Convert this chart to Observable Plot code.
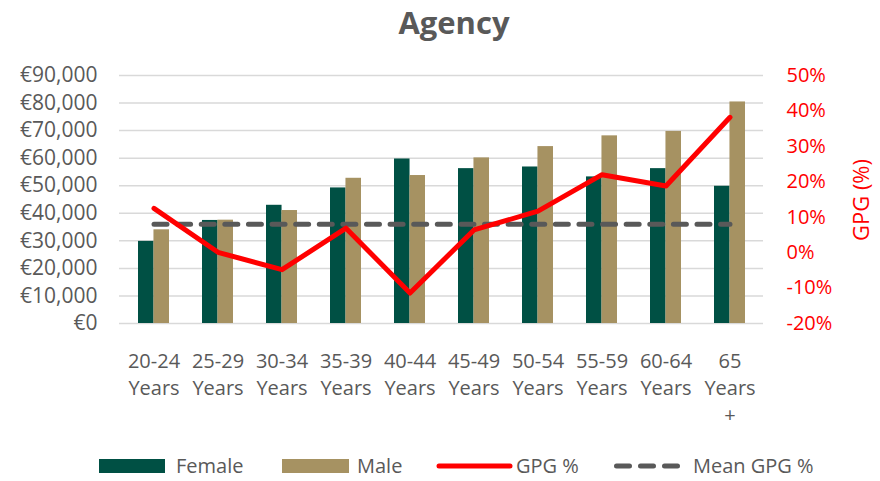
<!DOCTYPE html>
<html>
<head>
<meta charset="utf-8">
<script src="https://cdn.jsdelivr.net/npm/d3@7"></script>
<script src="https://cdn.jsdelivr.net/npm/@observablehq/plot@0.6"></script>
<style>
  body { margin: 0; background: #fff; font-family: "Open Sans", sans-serif; }
  #wrap { position: relative; width: 880px; height: 481px; overflow: hidden; background: #fff; }
  #chart { position: absolute; left: 0; top: 0; }
  #title { position: absolute; left: 0; top: 0; width: 908px; text-align: center; font-size: 31px; font-weight: 700; color: #595959; line-height: 44px; }
  #ytitle { position: absolute; left: 860px; top: 200px; transform: translate(-50%, -50%) rotate(-90deg); color: #ff0000; font-size: 22px; white-space: nowrap; }
  .lg { position: absolute; top: 452px; height: 28px; line-height: 28px; font-size: 20px; color: #595959; white-space: nowrap; }
  .sw { position: absolute; }
</style>
</head>
<body>
<div id="wrap">
  <div id="chart"></div>
  <div id="title">Agency</div>
  <div id="ytitle">GPG (%)</div>
  <div class="sw" style="left:99px;top:459px;width:66px;height:14px;background:#005044"></div>
  <div class="lg" style="left:176px">Female</div>
  <div class="sw" style="left:282px;top:459px;width:67px;height:14px;background:#A69262"></div>
  <div class="lg" style="left:357px">Male</div>
  <svg class="sw" style="left:436px;top:456px" width="78" height="20"><line x1="3" y1="10" x2="74" y2="10" stroke="#ff0000" stroke-width="5" stroke-linecap="round"/></svg>
  <div class="lg" style="left:516px">GPG %</div>
  <svg class="sw" style="left:611px;top:456px" width="72" height="20"><line x1="5.5" y1="10" x2="66.5" y2="10" stroke="#595959" stroke-width="5" stroke-linecap="round" stroke-dasharray="13,11"/></svg>
  <div class="lg" style="left:693px">Mean GPG %</div>
</div>
<script>
const categories = ["20-24", "25-29", "30-34", "35-39", "40-44", "45-49", "50-54", "55-59", "60-64", "65+"];
const tickLabels = ["20-24\nYears", "25-29\nYears", "30-34\nYears", "35-39\nYears", "40-44\nYears", "45-49\nYears", "50-54\nYears", "55-59\nYears", "60-64\nYears", "65\nYears\n+"];
const female = [29800, 37400, 42900, 49200, 59700, 56200, 56800, 53200, 56200, 49800];
const male   = [34000, 37500, 41000, 52700, 53700, 60100, 64200, 68100, 69700, 80400];
const gpg    = [12.5, 0.1, -4.8, 6.9, -11.4, 6.4, 11.7, 22.0, 18.8, 38.2];
const meanGpg = 8.0;
const salaryTicks = [0, 10000, 20000, 30000, 40000, 50000, 60000, 70000, 80000, 90000];
const pctTicks = [-20, -10, 0, 10, 20, 30, 40, 50];

const yMax = 90000, pMin = -20, pMax = 50;
const toLeft = p => (p - pMin) / (pMax - pMin) * yMax;
const toPct = v => v / yMax * (pMax - pMin) + pMin;

const rows = categories.map((c, i) => ({cat: c, female: female[i], male: male[i], gpg: toLeft(gpg[i]), mean: toLeft(meanGpg)}));
const labelMap = new Map(categories.map((c, i) => [c, tickLabels[i]]));

const W = 880, H = 481, mL = 119, mR = 117, mT = 75, mB = 158;
const padIn = 0.52, padOut = 0.26;
const step = (W - mL - mR) / categories.length;
const bw = step * (1 - padIn);
// dash pattern fitted so the mean line starts and ends on a dash (25 dashes)
const meanLen = step * (categories.length - 1);
const dashLen = 13, dashGap = (meanLen - dashLen) / 24 - dashLen;

const plot = Plot.plot({
  width: W, height: H,
  marginTop: mT, marginBottom: mB, marginLeft: mL, marginRight: mR,
  style: {fontFamily: "Open Sans", fontSize: "20px", color: "#595959", background: "transparent"},
  x: {domain: categories, paddingInner: padIn, paddingOuter: padOut, axis: null},
  y: {domain: [0, yMax], axis: null},
  marks: [
    Plot.ruleY(salaryTicks, {stroke: "#d9d9d9", strokeWidth: 1.5}),
    Plot.axisY({anchor: "left", ticks: salaryTicks, tickSize: 0, tickPadding: 22, label: null,
      tickFormat: d => "€" + d3.format(",")(d), fill: "#595959", fontSize: 21}),
    Plot.axisY({anchor: "right", ticks: pctTicks.map(toLeft), tickSize: 0, tickPadding: 23, label: null,
      tickFormat: d => Math.round(toPct(d)) + "%", fill: "#ff0000", fontSize: 20}),
    Plot.axisX({tickSize: 0, tickPadding: 26, label: null, lineHeight: 1.33,
      tickFormat: d => labelMap.get(d), fill: "#595959", fontSize: 20}),
    Plot.barY(rows, {x: "cat", y: "female", fill: "#005044", insetRight: bw / 2}),
    Plot.barY(rows, {x: "cat", y: "male", fill: "#A69262", insetLeft: bw / 2}),
    Plot.lineY(rows, {x: "cat", y: "mean", stroke: "#595959", strokeWidth: 5, strokeDasharray: `${dashLen},${dashGap}`, strokeLinecap: "round"}),
    Plot.lineY(rows, {x: "cat", y: "gpg", stroke: "#ff0000", strokeWidth: 5, strokeLinejoin: "round", strokeLinecap: "round"})
  ]
});
document.getElementById("chart").appendChild(plot);
</script>
</body>
</html>
